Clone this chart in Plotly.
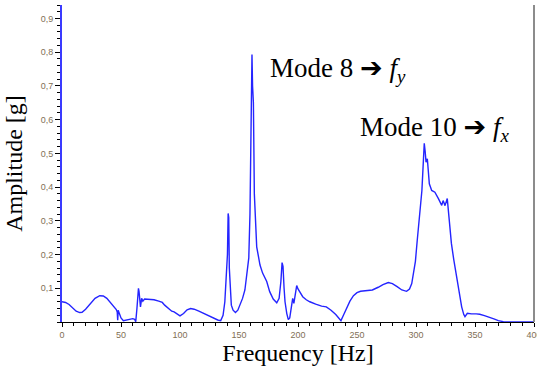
import plotly.graph_objects as go

freq = [0, 3, 6, 9, 12, 15, 17, 20, 24, 28, 32, 35, 38, 41, 44, 46, 46.8, 47.2, 47.6, 48.2, 49, 50, 52, 55, 58, 60,
        61.5, 62.5, 63.5, 64.2, 64.8, 65.3, 65.8, 66.5, 67.5, 68.5, 70, 74, 78, 82, 85, 87, 90, 93, 95, 98, 100,
        103, 106, 109, 112, 116, 120, 124, 128, 132, 134.5, 136.5, 138, 139.2, 140.2, 140.8, 141.3, 141.8, 142.5,
        143.5, 145, 147, 149, 151, 153, 155, 156.6, 158.3, 159.3, 160, 160.6, 161, 161.5, 162.2, 163, 163.8, 165,
        167.8, 170, 173.5, 176, 179, 182, 184, 185.5, 186.5, 187.3, 188.2, 189, 190.5, 191.8, 193, 194.5, 195.5,
        196.5, 197.5, 198.9, 200, 201.7, 204, 207, 210, 215, 220, 224, 228, 232, 234.5, 236.4, 238.5, 241, 244,
        247, 250, 253, 258, 263, 268, 272, 276.5, 280, 284, 288, 292, 294.5, 296.4, 298, 299.5, 301, 302.5, 304,
        305, 306, 307, 307.8, 308.5, 309.6, 310.4, 311.3, 313.3, 316, 319, 321.8, 323, 324.6, 326.5, 328, 330,
        332, 334.5, 336.5, 338.7, 340.5, 341.5, 343.5, 347, 351, 354, 358, 362.7, 366, 369.8, 374, 380, 390, 400]
amp = [0.060, 0.058, 0.052, 0.042, 0.032, 0.028, 0.029, 0.038, 0.055, 0.070, 0.078, 0.077, 0.070, 0.058, 0.045,
       0.037, 0.030, 0.005, 0.035, 0.030, 0.020, 0.012, 0.004, 0.006, 0.008, 0.010, 0.008, 0.001, 0.040, 0.085,
       0.100, 0.090, 0.060, 0.045, 0.070, 0.062, 0.068, 0.067, 0.066, 0.062, 0.058, 0.050, 0.040, 0.032, 0.030,
       0.022, 0.018, 0.025, 0.036, 0.040, 0.038, 0.032, 0.025, 0.018, 0.012, 0.006, 0.004, 0.020, 0.060, 0.120,
       0.200, 0.322, 0.310, 0.160, 0.090, 0.050, 0.035, 0.028, 0.035, 0.050, 0.070, 0.095, 0.134, 0.190, 0.320,
       0.600, 0.660, 0.793, 0.700, 0.650, 0.380, 0.300, 0.223, 0.169, 0.145, 0.120, 0.090, 0.068, 0.057, 0.070,
       0.120, 0.176, 0.165, 0.100, 0.060, 0.025, 0.007, 0.012, 0.040, 0.070, 0.055, 0.080, 0.108, 0.098, 0.088,
       0.075, 0.066, 0.060, 0.053, 0.047, 0.045, 0.035, 0.022, 0.012, 0.004, 0.020, 0.040, 0.062, 0.078, 0.087,
       0.091, 0.092, 0.095, 0.103, 0.111, 0.117, 0.114, 0.105, 0.095, 0.091, 0.098, 0.114, 0.145, 0.180, 0.240,
       0.300, 0.350, 0.390, 0.460, 0.530, 0.505, 0.474, 0.484, 0.450, 0.410, 0.390, 0.385, 0.366, 0.346, 0.360,
       0.345, 0.366, 0.310, 0.233, 0.185, 0.134, 0.090, 0.045, 0.022, 0.016, 0.026, 0.024, 0.024, 0.023, 0.019,
       0.014, 0.009, 0.004, 0.001, 0.0, 0.0, 0.0]

x_ticks = [0, 50, 100, 150, 200, 250, 300, 350, 400]
x_tick_labels = ["0", "50", "100", "150", "200", "250", "300", "350", "400"]
y_ticks = [0.1, 0.2, 0.3, 0.4, 0.5, 0.6, 0.7, 0.8, 0.9]
y_tick_labels = ["0,1", "0,2", "0,3", "0,4", "0,5", "0,6", "0,7", "0,8", "0,9"]

arrow = "<span style='font-family:DejaVu Sans'>\u2794</span>"
label_mode8 = "Mode 8 " + arrow + " <i>f</i><sub><i>y</i></sub>"
label_mode10 = "Mode 10 " + arrow + " <i>f</i><sub><i>x</i></sub>"

fig = go.Figure()
fig.add_trace(go.Scatter(x=freq, y=amp, mode="lines",
                         line=dict(color="#2424ff", width=1.4), showlegend=False))

tick_font = dict(family="Liberation Sans", size=9, color="#7f6f55")
title_font = dict(family="Liberation Serif", size=24, color="black")

fig.update_layout(
    width=537, height=367,
    margin=dict(l=62, r=3, t=5, b=45),
    paper_bgcolor="white", plot_bgcolor="white",
    xaxis=dict(range=[0, 400], tickvals=x_ticks, ticktext=x_tick_labels,
               showline=True, linecolor="black", linewidth=1.2,
               ticks="outside", ticklen=4, tickcolor="black", tickwidth=1,
               minor=dict(dtick=10, ticks="outside", ticklen=3, tickcolor="black"),
               showgrid=False, zeroline=False, tickfont=tick_font,
               ticklabeloverflow="allow",
               title=dict(text="Frequency [Hz]", font=title_font, standoff=2),
               automargin=False),
    yaxis=dict(range=[0, 0.94], tickvals=y_ticks, ticktext=y_tick_labels,
               showline=True, linecolor="#3a3aff", linewidth=1.8,
               ticks="outside", ticklen=5, tickcolor="black", tickwidth=1,
               minor=dict(dtick=0.02, tick0=0, ticks="outside", ticklen=3, tickcolor="black"),
               showgrid=False, zeroline=False, tickfont=tick_font,
               title=dict(text="Amplitude [g]", font=title_font, standoff=11),
               automargin=False),
    shapes=[dict(type="line", xref="paper", yref="paper", x0=1, x1=1, y0=0, y1=1,
                 line=dict(color="#8c8c8c", width=2))],
    annotations=[
        dict(x=174.5, y=0.75, xref="x", yref="y", text=label_mode8, showarrow=False,
             xanchor="left", yanchor="middle",
             font=dict(family="Liberation Serif", size=27, color="black")),
        dict(x=251, y=0.575, xref="x", yref="y", text=label_mode10, showarrow=False,
             xanchor="left", yanchor="middle",
             font=dict(family="Liberation Serif", size=27, color="black")),
    ],
)

fig.write_html("out.html", config={"displayModeBar": False},
               post_script="document.body.style.margin='0';document.body.style.padding='0';")
